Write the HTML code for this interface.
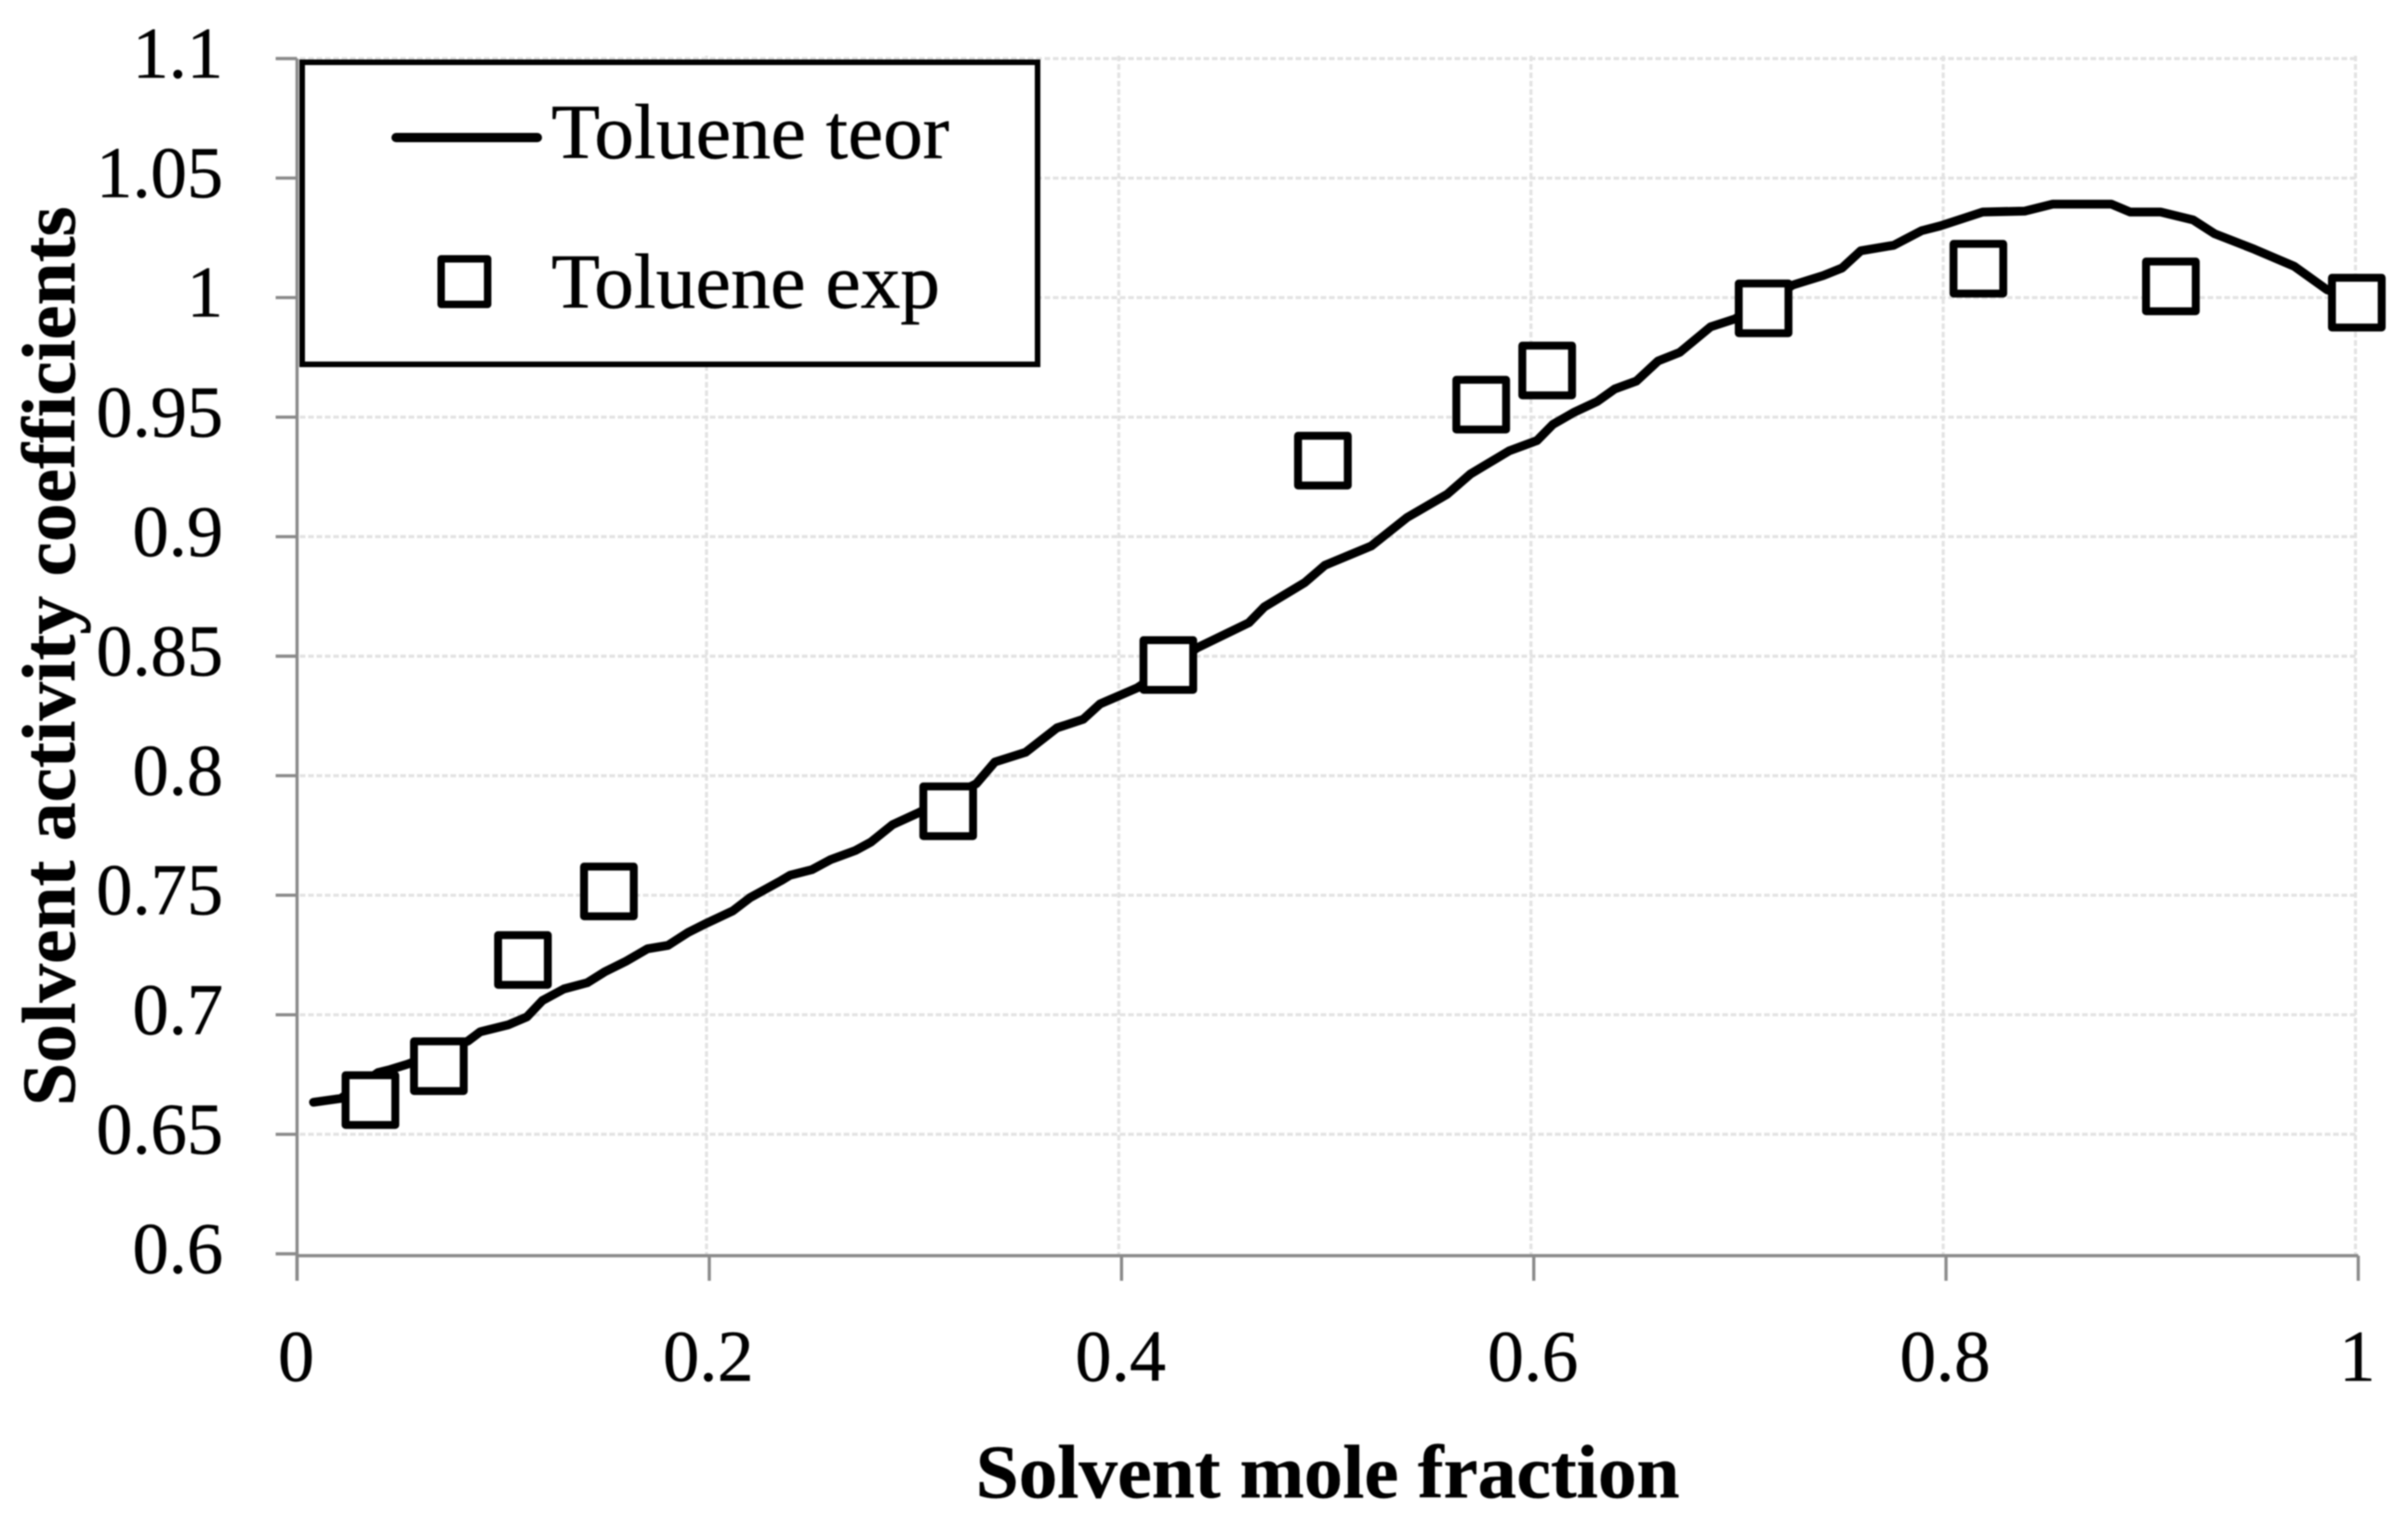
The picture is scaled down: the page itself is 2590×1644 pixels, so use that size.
<!DOCTYPE html>
<html>
<head>
<meta charset="utf-8">
<title>Solvent activity coefficients</title>
<style>
html,body{margin:0;padding:0;background:#fff;width:2590px;height:1644px;overflow:hidden}
svg{display:block;filter:blur(0.7px)}
text{font-family:"Liberation Serif",serif;fill:#000;stroke:#000;stroke-width:0.5px}
</style>
</head>
<body>
<svg id="chart" xmlns="http://www.w3.org/2000/svg" width="2590" height="1644" viewBox="0 0 2590 1644">
  <rect x="0" y="0" width="2590" height="1644" fill="#ffffff"/>
  <g id="grid"></g>
  <g id="axes"></g>
  <g id="series"></g>
  <text x="1428" y="1611" text-anchor="middle" font-size="82" font-weight="700" textLength="757" lengthAdjust="spacingAndGlyphs">Solvent mole fraction</text>
  <text transform="translate(80 1190) rotate(-90)" font-size="82" font-weight="700" textLength="968" lengthAdjust="spacingAndGlyphs">Solvent activity coefficients</text>
  <g>
    <rect x="325" y="67" width="791" height="325" fill="#ffffff" stroke="#000000" stroke-width="6"/>
    <line x1="426" y1="148" x2="578" y2="148" stroke="#000000" stroke-width="10" stroke-linecap="round"/>
    <text x="593" y="170" font-size="84" textLength="428" lengthAdjust="spacingAndGlyphs">Toluene teor</text>
    <rect x="474.5" y="278.5" width="50" height="49" fill="#ffffff" stroke="#000000" stroke-width="8" stroke-linejoin="round"/>
    <text x="593" y="331" font-size="84" textLength="418" lengthAdjust="spacingAndGlyphs">Toluene exp</text>
  </g>
</svg>
<script>
const xTicks = [0, 0.2, 0.4, 0.6, 0.8, 1];
const xTickLabels = ["0", "0.2", "0.4", "0.6", "0.8", "1"];
const yTicks = [1.1, 1.05, 1, 0.95, 0.9, 0.85, 0.8, 0.75, 0.7, 0.65, 0.6];
const yTickLabels = ["1.1", "1.05", "1", "0.95", "0.9", "0.85", "0.8", "0.75", "0.7", "0.65", "0.6"];

const teorX = [0.0080,0.0213,0.0393,0.0453,0.0536,0.0829,0.0889,0.1025,0.1115,0.1190,0.1295,0.1408,0.1491,0.1596,0.1701,0.1799,0.1897,0.1987,0.2115,0.2198,0.2348,0.2393,0.2498,0.2588,0.2709,0.2784,0.2889,0.3010,0.3295,0.3385,0.3535,0.3686,0.3814,0.3896,0.4077,0.4370,0.4618,0.4693,0.4889,0.4986,0.5212,0.5385,0.5581,0.5693,0.5881,0.6016,0.6092,0.6197,0.6309,0.6393,0.6498,0.6603,0.6708,0.6858,0.6976,0.7257,0.7404,0.7496,0.7587,0.7746,0.7882,0.7973,0.8178,0.8382,0.8518,0.8802,0.8893,0.9041,0.9199,0.9303,0.9496,0.9689,0.9848,1.0000];
const teorY = [0.6634,0.6650,0.6758,0.6771,0.6793,0.6890,0.6929,0.6958,0.6991,0.7059,0.7108,0.7134,0.7179,0.7224,0.7276,0.7290,0.7344,0.7383,0.7435,0.7490,0.7561,0.7584,0.7607,0.7649,0.7687,0.7722,0.7795,0.7843,0.7966,0.8057,0.8098,0.8200,0.8236,0.8300,0.8368,0.8536,0.8640,0.8706,0.8808,0.8880,0.8961,0.9080,0.9178,0.9262,0.9359,0.9402,0.9469,0.9521,0.9566,0.9618,0.9651,0.9735,0.9771,0.9878,0.9911,1.0053,1.0092,1.0124,1.0196,1.0219,1.0280,1.0300,1.0358,1.0362,1.0391,1.0391,1.0358,1.0358,1.0325,1.0267,1.0202,1.0131,1.0033,0.9990];

const expX = [0.0356,0.0688,0.1096,0.1513,0.3159,0.4227,0.4977,0.5745,0.6065,0.7115,0.8157,0.9091,0.9993];
const expY = [0.6643,0.6785,0.7229,0.7516,0.7851,0.8463,0.9318,0.9552,0.9695,0.9955,1.0121,1.0047,0.9979];

const NS = "http://www.w3.org/2000/svg";
const plotLeft = 319.5, plotRight = 2536.5, plotTop = 63, plotBottom = 1349;
const axisLineY = plotBottom + 2;
function xScale(v) { return plotLeft + v * (plotRight - plotLeft); }
function yScale(v) { return plotBottom - (v - 0.6) / 0.5 * (plotBottom - plotTop); }
function make(tag, attrs) {
  const el = document.createElementNS(NS, tag);
  for (const k in attrs) el.setAttribute(k, attrs[k]);
  return el;
}

const grid = document.getElementById("grid");
const axes = document.getElementById("axes");
const series = document.getElementById("series");
const gridStyle = { stroke: "#e2e2e2", "stroke-width": 3.2, "stroke-dasharray": "6 3", fill: "none" };
const axisStyle = { stroke: "#8a8a8a", "stroke-width": 3.4, fill: "none" };

yTicks.forEach(function (v, i) {
  if (v !== 0.6) {
    const g = make("line", Object.assign({ x1: plotLeft + 3, x2: xScale(1) - 3, y1: yScale(v), y2: yScale(v) }, gridStyle));
    
    
    grid.appendChild(g);
  }
  const t = make("line", Object.assign({ x1: 296.5, x2: plotLeft, y1: yScale(v), y2: yScale(v) }, axisStyle));
  
  
  axes.appendChild(t);
  const lab = make("text", { x: 240, y: yScale(v) + 20.5, "text-anchor": "end", "font-size": 78 });
  lab.textContent = yTickLabels[i];
  
  
  axes.appendChild(lab);
});

xTicks.forEach(function (v, i) {
  if (v !== 0) {
    const g = make("line", Object.assign({ x1: xScale(v) - 3, x2: xScale(v) - 3, y1: plotTop - 3, y2: axisLineY }, gridStyle));
    
    
    grid.appendChild(g);
  }
  const t = make("line", Object.assign({ x1: xScale(v), x2: xScale(v), y1: axisLineY, y2: 1378 }, axisStyle));
  
  
  axes.appendChild(t);
  const lab = make("text", { x: xScale(v) - 1, y: 1485.5, "text-anchor": "middle", "font-size": 78 });
  lab.textContent = xTickLabels[i];
  
  
  axes.appendChild(lab);
});

const yAxis = make("line", Object.assign({ x1: plotLeft, x2: plotLeft, y1: plotTop, y2: 1378 }, axisStyle));


axes.appendChild(yAxis);

const xAxis = make("line", Object.assign({ x1: plotLeft, x2: plotRight, y1: axisLineY, y2: axisLineY }, axisStyle));


axes.appendChild(xAxis);

const points = teorX.map(function (v, i) { return xScale(v).toFixed(1) + "," + yScale(teorY[i]).toFixed(1); }).join(" ");
const curve = make("polyline", { points: points, fill: "none", stroke: "#000000", "stroke-width": 9.5, "stroke-linejoin": "round", "stroke-linecap": "round" });


series.appendChild(curve);

const markerSize = 53.5;
expX.forEach(function (v, i) {
  const m = make("rect", {
    x: xScale(v) - markerSize / 2,
    y: yScale(expY[i]) - markerSize / 2,
    width: markerSize,
    height: markerSize,
    fill: "#ffffff",
    stroke: "#000000",
    "stroke-width": 8.5,
    "stroke-linejoin": "round"
  });
  
  
  series.appendChild(m);
});
</script>
</body>
</html>
